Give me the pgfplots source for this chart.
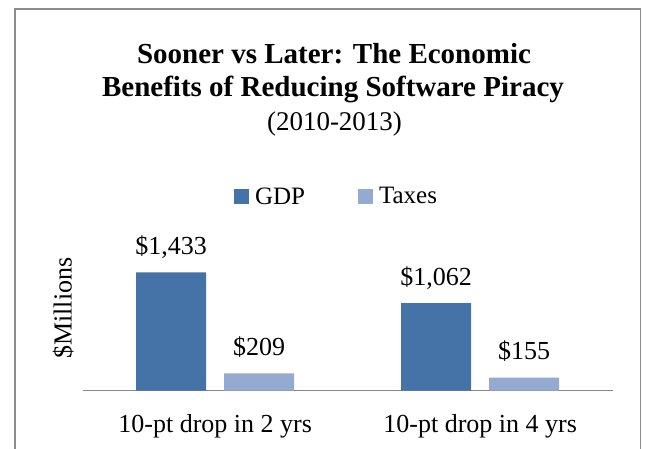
\documentclass[border=0pt]{standalone}
\usepackage{fontspec}
\setmainfont{Liberation Serif}
\usepackage{pgfplots}
\pgfplotsset{compat=1.18}
\definecolor{gdpblue}{HTML}{4572A7}
\definecolor{taxblue}{HTML}{94AAD1}
\definecolor{framegray}{HTML}{8C8C8C}
\definecolor{axisgray}{HTML}{878787}
\begin{document}
\begin{tikzpicture}[x=1pt,y=1pt]
\useasboundingbox (0,0) rectangle (646,448);
\fill[white] (0,0) rectangle (646,448);
\draw[framegray, line width=1.5pt] (15,-10) rectangle (640.5,439);
\node[anchor=base, font=\fontsize{29}{33}\selectfont\bfseries] at (334,384) {Sooner vs Later: The Economic};
\node[anchor=base, font=\fontsize{29}{33}\selectfont\bfseries] at (333,351) {Benefits of Reducing Software Piracy};
\node[anchor=base, font=\fontsize{27}{31}\selectfont] at (334.5,317) {(2010-2013)};
\begin{axis}[
  at={(82.7pt,57.5pt)}, anchor=south west,
  scale only axis, width=530pt, height=164.7pt,
  xmin=-0.5, xmax=1.5, ymin=0, ymax=2000,
  ybar=18pt, bar width=70pt,
  axis x line=bottom, axis y line=left,
  x axis line style={-, axisgray, line width=1.3pt},
  y axis line style={draw=none},
  xtick={0,1}, xticklabels={10-pt drop in 2 yrs,10-pt drop in 4 yrs},
  major tick length=0pt,
  ytick=\empty,
  xticklabel style={anchor=base, yshift=-41.5pt, font=\fontsize{26}{30}\selectfont},
  ylabel={\$Millions},
  ylabel style={at={(axis description cs:-0.037,0.5)}, anchor=center, font=\fontsize{26}{30}\selectfont},
  point meta=explicit symbolic,
  nodes near coords,
  every node near coord/.append style={anchor=base, yshift=18pt, font=\fontsize{26}{30}\selectfont, text=black},
  clip=false,
  legend columns=2,
  legend style={draw=none, fill=none, at={(axis description cs:0.477,1.178)}, anchor=center,
    font=\fontsize{25}{29}\selectfont,
    /tikz/every odd column/.append style={column sep=6pt},
    /tikz/every even column/.append style={column sep=53pt},
    nodes={inner sep=0pt}},
  legend image code/.code={\fill[#1] (0pt,-7.5pt) rectangle (15pt,7.5pt);},
]
\addplot[fill=gdpblue, draw=none] coordinates {(0,1433)[\$1,433] (1,1062)[\$1,062]};
\addplot[fill=taxblue, draw=none] coordinates {(0,209)[\$209] (1,155)[\$155]};
\legend{GDP,Taxes}
\end{axis}
\end{tikzpicture}
\end{document}
